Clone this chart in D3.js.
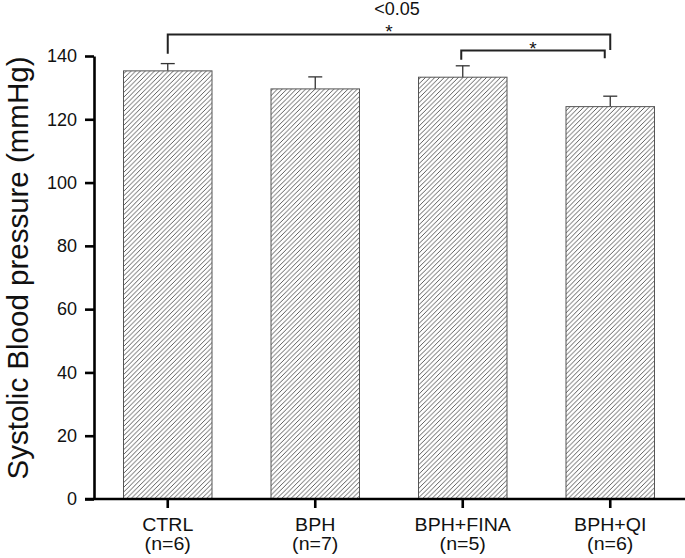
<!DOCTYPE html>
<html>
<head>
<meta charset="utf-8">
<script src="https://cdn.jsdelivr.net/npm/d3@7"></script>
<style>
  body { margin: 0; background: #fff; }
  svg text { font-family: "Liberation Sans", Arial, sans-serif; fill: #111; }
</style>
</head>
<body>
<div class="barchart"></div>
<script>
// group names + sample sizes
var categories = ["CTRL", "BPH", "BPH+FINA", "BPH+QI"];
var sampleSizes = ["(n=6)", "(n=7)", "(n=5)", "(n=6)"];
// mean systolic pressure and error (SEM)
var means = [135.3, 129.6, 133.3, 124.0];
var errors = [2.3, 3.8, 3.6, 3.3];
var yTicks = [0, 20, 40, 60, 80, 100, 120, 140];
// significance brackets: from group, to group, level (mmHg), label
var brackets = [
  { from: "CTRL", to: "BPH+QI", level: 146.8, left: 140.7, right: 141.9, label: "*", note: "<0.05" },
  { from: "BPH+FINA", to: "BPH+QI", level: 141.7, left: 138.8, right: 139.3, label: "*" }
];

var W = 685, H = 558;
var svg = d3.select(".barchart")
  .append("svg")
    .attr("width", W)
    .attr("height", H);

var x = d3.scaleBand()
  .domain(categories)
  .range([94, 684])
  .paddingInner(0.4)
  .paddingOuter(0.2);

var y = d3.scaleLinear()
  .domain([0, 140])
  .range([499, 56]);

// hatch pattern for the bars
var defs = svg.append("defs");
var pat = defs.append("pattern")
  .attr("id", "hatch")
  .attr("patternUnits", "userSpaceOnUse")
  .attr("width", 4.7)
  .attr("height", 4.7);
pat.append("path")
  .attr("d", "M-1,1 l2,-2 M0,4.7 l4.7,-4.7 M3.7,5.7 l2,-2")
  .attr("stroke", "#4a4a4a")
  .attr("stroke-width", 0.9);

var data = categories.map(function(c, i) {
  return { cat: c, n: sampleSizes[i], mean: means[i], err: errors[i] };
});

// error bars (upper part only, drawn first so bars cover the base)
svg.selectAll(".err")
  .data(data)
  .enter().append("line")
    .attr("class", "err")
    .attr("x1", function(d) { return x(d.cat) + x.bandwidth() / 2; })
    .attr("x2", function(d) { return x(d.cat) + x.bandwidth() / 2; })
    .attr("y1", function(d) { return y(d.mean); })
    .attr("y2", function(d) { return y(d.mean + d.err); })
    .attr("stroke", "#333")
    .attr("stroke-width", 1.3);
svg.selectAll(".cap")
  .data(data)
  .enter().append("line")
    .attr("class", "cap")
    .attr("x1", function(d) { return x(d.cat) + x.bandwidth() / 2 - 7; })
    .attr("x2", function(d) { return x(d.cat) + x.bandwidth() / 2 + 7; })
    .attr("y1", function(d) { return y(d.mean + d.err); })
    .attr("y2", function(d) { return y(d.mean + d.err); })
    .attr("stroke", "#333")
    .attr("stroke-width", 1.3);

svg.selectAll(".bar")
  .data(data)
  .enter().append("rect")
    .attr("class", "bar")
    .attr("x", function(d) { return x(d.cat); })
    .attr("y", function(d) { return y(d.mean); })
    .attr("width", x.bandwidth())
    .attr("height", function(d) { return y(0) - y(d.mean); })
    .attr("fill", "url(#hatch)")
    .attr("stroke", "#555")
    .attr("stroke-width", 1);

// y axis
var yAxis = svg.append("g")
  .attr("transform", "translate(94,0)")
  .call(d3.axisLeft(y).tickValues(yTicks).tickSize(9).tickSizeOuter(0).tickPadding(8));
yAxis.select(".domain").attr("stroke", "#000").attr("stroke-width", 2.6);
yAxis.selectAll(".tick line").attr("stroke", "#000").attr("stroke-width", 2.6);
yAxis.selectAll(".tick text").style("font-size", "18px").attr("fill", "#111");

// x axis
var xAxis = svg.append("g")
  .attr("transform", "translate(0,499)")
  .call(d3.axisBottom(x).tickSize(9).tickSizeOuter(0).tickPadding(8));
xAxis.select(".domain").attr("d", "M85,0H685").attr("stroke", "#000").attr("stroke-width", 2.6);
xAxis.selectAll(".tick line").attr("stroke", "#000").attr("stroke-width", 2.6);
xAxis.selectAll(".tick text")
  .style("font-size", "17.5px")
  .attr("fill", "#111")
  .attr("transform", "scale(1.12,1)")
  .each(function(d, i) {
    var t = d3.select(this).text(null).attr("y", 0).attr("dy", null);
    t.append("tspan").attr("x", 0).attr("y", 32).text(d);
    t.append("tspan").attr("x", 0).attr("y", 51.5).text(sampleSizes[i]);
  });

// y axis title
svg.append("text")
  .attr("transform", "rotate(-90)")
  .attr("x", -268)
  .attr("y", 28)
  .style("text-anchor", "middle")
  .style("font-size", "29.5px")
  .text("Systolic Blood pressure (mmHg)");

// significance brackets
brackets.forEach(function(b, i) {
  var x1 = x(b.from) + x.bandwidth() / 2 - (i == 1 ? 1.5 : 0);
  var x2 = x(b.to) + x.bandwidth() / 2 - (i == 1 ? 5.5 : 0);
  svg.append("path")
    .attr("d", "M" + x1 + "," + y(b.left) + "V" + y(b.level) + "H" + x2 + "V" + y(b.right))
    .attr("fill", "none")
    .attr("stroke", "#222")
    .attr("stroke-width", 2);
  svg.append("text")
    .attr("x", (x1 + x2) / 2)
    .attr("y", y(b.level) + 4)
    .style("text-anchor", "middle")
    .style("font-size", "19px")
    .text(b.label);
  if (b.note) {
    svg.append("text")
      .attr("x", (x1 + x2) / 2 + 8)
      .attr("y", y(b.level) - 19.5)
      .style("text-anchor", "middle")
      .style("font-size", "18px")
      .text(b.note);
  }
});
</script>
</body>
</html>
